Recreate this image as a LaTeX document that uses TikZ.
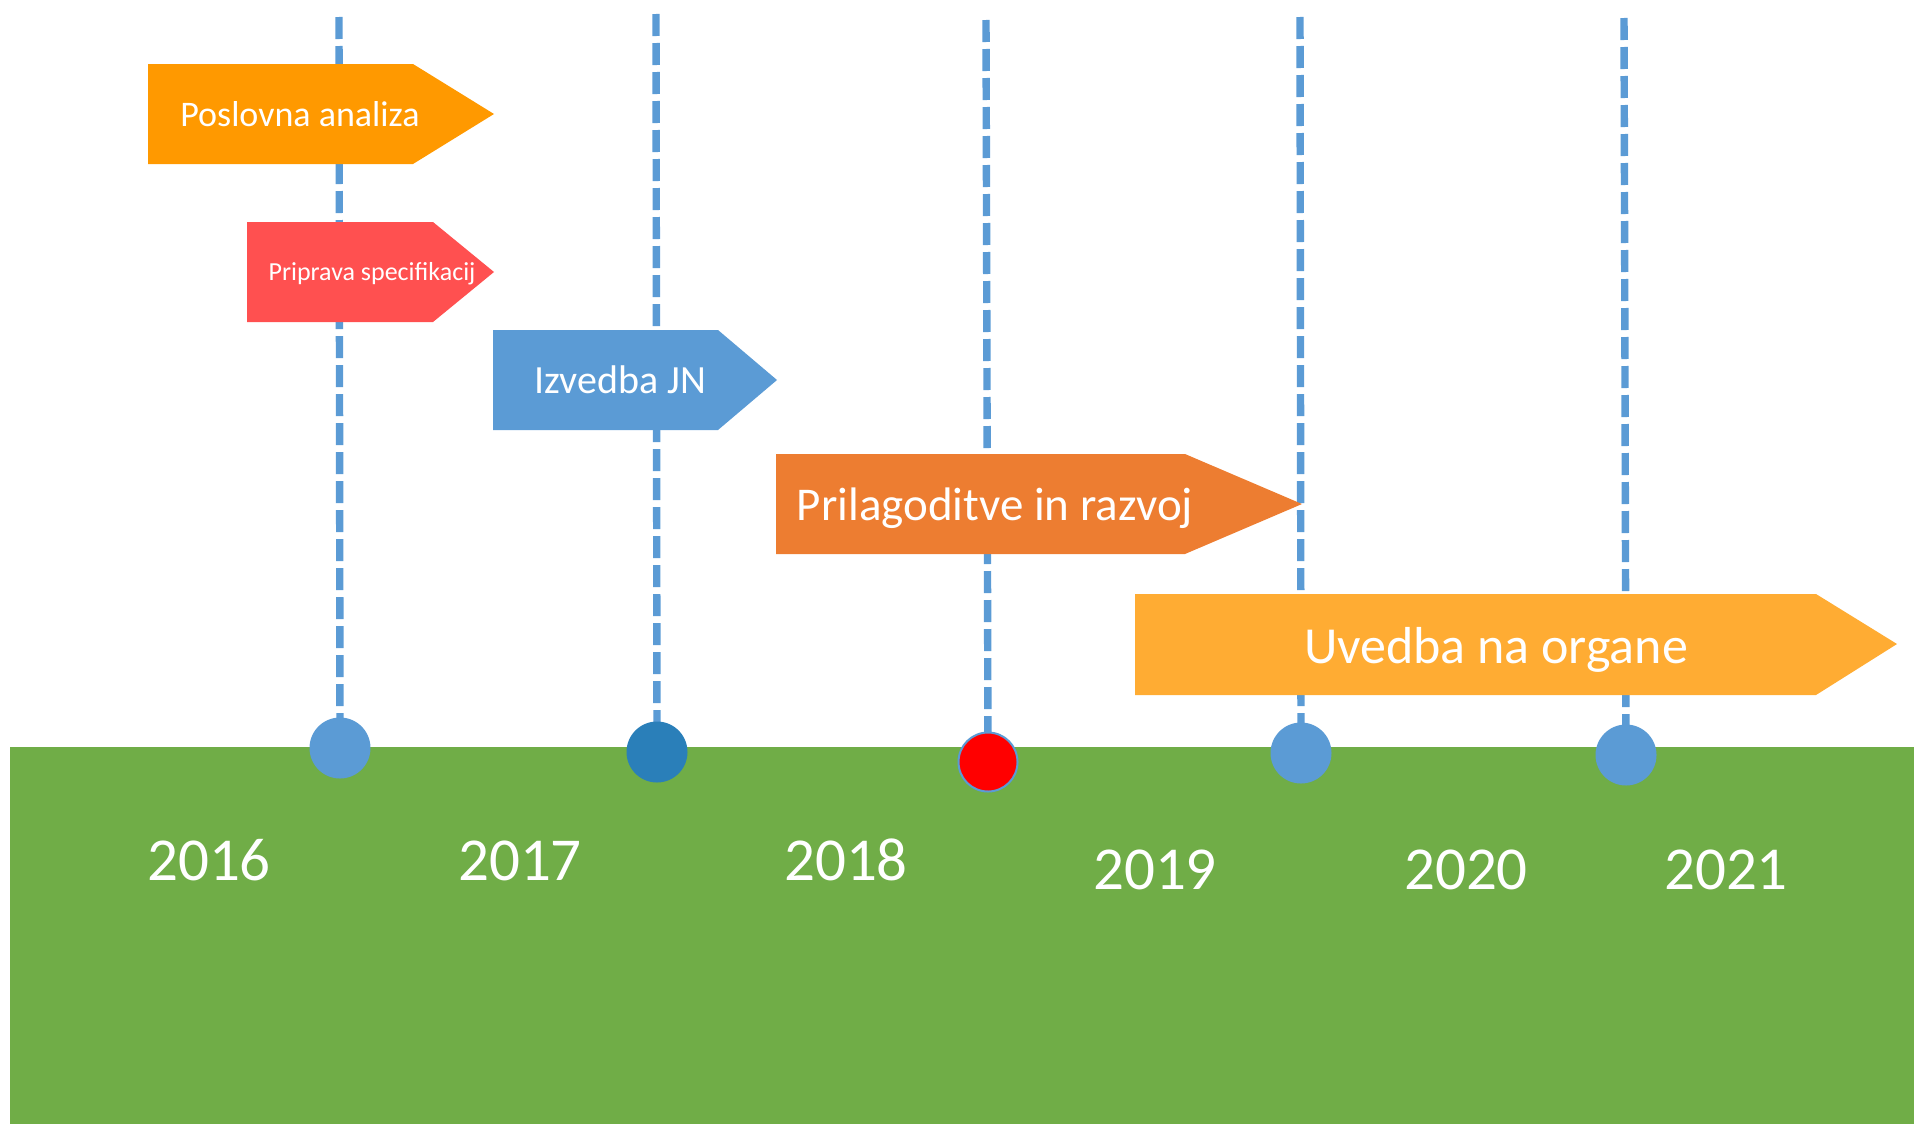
\documentclass[tikz,border=0pt]{standalone}
\usepackage{fontspec}
\setmainfont{Carlito}
\definecolor{bandgreen}{HTML}{70AD47}
\definecolor{lineblue}{HTML}{5B9BD5}
\definecolor{dotdark}{HTML}{2A7FB9}
\definecolor{cposl}{HTML}{FF9900}
\definecolor{cprip}{HTML}{FF5050}
\definecolor{cizv}{HTML}{5B9BD5}
\definecolor{cpril}{HTML}{ED7D31}
\definecolor{cuved}{HTML}{FFAC33}
\newcommand\myfs[1]{\fontsize{#1}{#1}\selectfont}
\begin{document}
\begin{tikzpicture}[x=0.5pt,y=-0.5pt,
  dashline/.style={draw=lineblue, line width=3.7pt, dash pattern=on 11pt off 3.5pt},
  dot/.style={circle, minimum size=30.5pt, inner sep=0pt},
  lbl/.style={text=white, anchor=base, inner sep=0pt},
  yearlbl/.style={lbl, font=\myfs{30.5}}]
\useasboundingbox (0,0) rectangle (1914,1124);
% green band
\fill[bandgreen] (10,747) rectangle (1914,1124);
% dot centres and line tops
\coordinate (c1) at (340,748);
\coordinate (c2) at (657,752);
\coordinate (c3) at (988,762);
\coordinate (c4) at (1301,753);
\coordinate (c5) at (1626,755);
\coordinate (t1) at (339,17);
\coordinate (t2) at (656,14);
\coordinate (t3) at (986,20);
\coordinate (t4) at (1300,17);
\coordinate (t5) at (1624,18);
% dashed lines
\foreach \i in {1,...,5}{\draw[dashline] (t\i) -- (c\i);}
% arrows
\fill[cposl] (148,64) -- (413,64) -- (494,114) -- (413,164) -- (148,164) -- cycle;
\fill[cprip] (247,222) -- (433,222) -- (494,272) -- (433,322) -- (247,322) -- cycle;
\fill[cizv] (493,330) -- (718,330) -- (777,380) -- (718,430) -- (493,430) -- cycle;
\fill[cpril] (776,454) -- (1185,454) -- (1302,504) -- (1185,554) -- (776,554) -- cycle;
\fill[cuved] (1135,594) -- (1816,594) -- (1897,644) -- (1816,695) -- (1135,695) -- cycle;
% arrow labels
\node[lbl, font=\myfs{18}] (poslovna) at (300,126) {Poslovna analiza};
\node[lbl, font=\myfs{13}] (priprava) at (372,280) {Priprava specifikacij};
\node[lbl, font=\myfs{20}] (izvedba) at (620,393) {Izvedba JN};
\node[lbl, font=\myfs{23.5}] (prilag) at (995,520) {Prilagoditve in razvoj};
\node[lbl, font=\myfs{26}] (uvedba) at (1496,663) {Uvedba na organe};
% dots
\node[dot, fill=lineblue] (d1) at (c1) {};
\node[dot, fill=dotdark] (d2) at (c2) {};
\node[dot, fill=red, draw=lineblue, line width=1pt, minimum size=29.5pt] (d3) at (c3) {};
\node[dot, fill=lineblue] (d4) at (c4) {};
\node[dot, fill=lineblue] (d5) at (c5) {};
% years
\node[yearlbl] (y2016) at (209,880) {2016};
\node[yearlbl] (y2017) at (520,880) {2017};
\node[yearlbl] (y2018) at (846,880) {2018};
\node[yearlbl] (y2019) at (1155,889) {2019};
\node[yearlbl] (y2020) at (1466,889) {2020};
\node[yearlbl] (y2021) at (1726,889) {2021};
\end{tikzpicture}
\end{document}
